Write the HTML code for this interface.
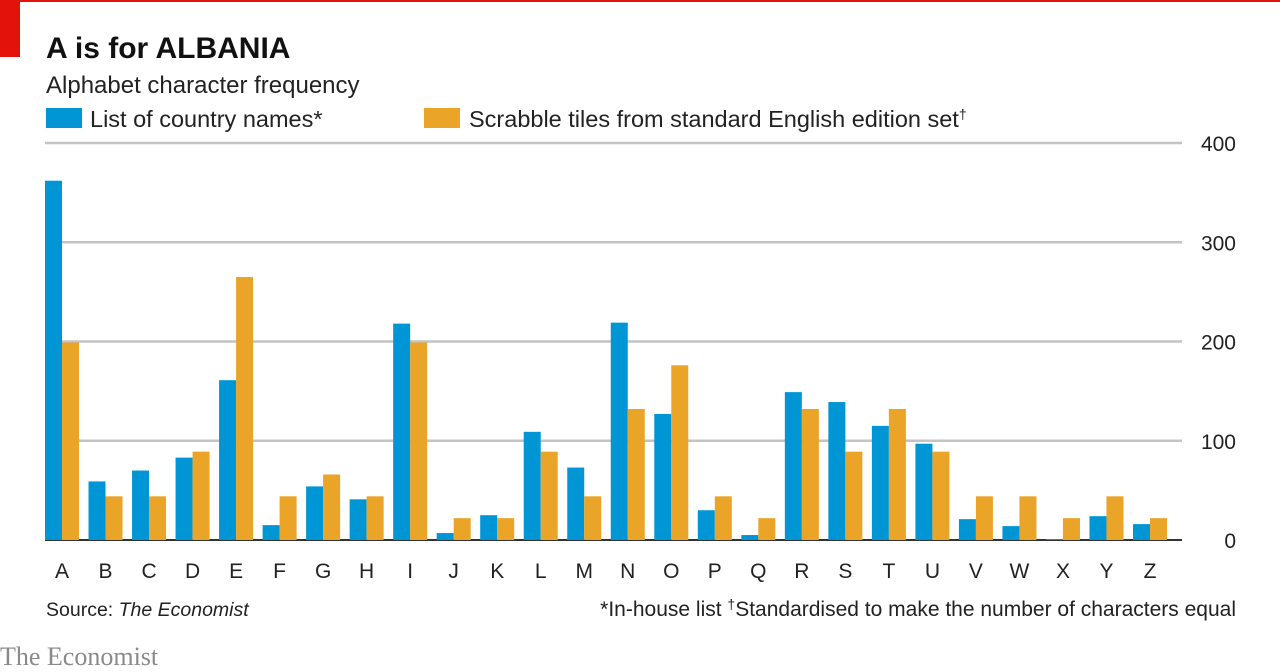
<!DOCTYPE html>
<html><head><meta charset="utf-8"><style>
body{margin:0;width:1280px;height:672px;background:#fff;overflow:hidden;font-family:"Liberation Sans",sans-serif;}
</style></head><body>
<svg width="1280" height="672" style="position:absolute;left:0;top:0">
<rect x="0" y="0" width="1280" height="2" fill="#e3120b"/>
<rect x="0" y="0" width="20" height="57" fill="#e3120b"/>
<text x="46" y="58" font-size="30" font-weight="bold" fill="#111">A is for ALBANIA</text>
<text x="46" y="93" font-size="24" fill="#222">Alphabet character frequency</text>
<rect x="46" y="108" width="36" height="20" fill="#0096d6"/>
<text x="90" y="127" font-size="23.5" fill="#222">List of country names*</text>
<rect x="424" y="108" width="36" height="20" fill="#eaa428"/>
<text x="469" y="127" font-size="23.5" fill="#222">Scrabble tiles from standard English edition set<tspan font-size="14" dy="-8">†</tspan></text>
<g id="grid"></g><g id="bars"></g><g id="xlab"></g>
<text x="46" y="616" font-size="19.5" fill="#222">Source: <tspan font-style="italic">The Economist</tspan></text>
<text x="1236" y="616" font-size="21" fill="#222" text-anchor="end">*In-house list   <tspan font-size="14" dy="-7">†</tspan><tspan dy="7">Standardised to make the number of characters equal</tspan></text>
<text x="0" y="665" font-size="26" fill="#8a8a8a" font-family="Liberation Serif, serif">The Economist</text>
</svg>
<script>
const categories=["A","B","C","D","E","F","G","H","I","J","K","L","M","N","O","P","Q","R","S","T","U","V","W","X","Y","Z"];
const countryValues=[362,59,70,83,161,15,54,41,218,7,25,109,73,219,127,30,5,149,139,115,97,21,14,1,24,16];
const scrabbleValues=[199,44,44,89,265,44,66,44,199,22,22,89,44,132,176,44,22,132,89,132,89,44,44,22,44,22];
const yTicks=[0,100,200,300,400];
const NS="http://www.w3.org/2000/svg";
const y=v=>540-v*0.9925;
const xc=i=>62+i*43.52;
function mk(t,a,p){const e=document.createElementNS(NS,t);for(const k in a)e.setAttribute(k,a[k]);p.appendChild(e);return e;}
const g=document.getElementById('grid');
yTicks.forEach(t=>{
 const l=mk('line',{x1:45,x2:1182,y1:y(t),y2:y(t),stroke:t===0?'#333':'#c4c4c4','stroke-width':t===0?2:2.5},g);
 
 
 const tx=mk('text',{x:1236,y:y(t)+8,'font-size':21,fill:'#222','text-anchor':'end'},g);
 tx.textContent=t;
 
 
});
const b=document.getElementById('bars'),xl=document.getElementById('xlab');
categories.forEach((c,i)=>{
 const r1=mk('rect',{x:xc(i)-17,y:y(countryValues[i]),width:17,height:540-y(countryValues[i]),fill:'#0096d6'},b);
 
 
 const r2=mk('rect',{x:xc(i),y:y(scrabbleValues[i]),width:17,height:540-y(scrabbleValues[i]),fill:'#eaa428'},b);
 
 
 const t=mk('text',{x:xc(i),y:578,'font-size':21,fill:'#222','text-anchor':'middle'},xl);
 t.textContent=c;
 
 
});
</script>
</body></html>
